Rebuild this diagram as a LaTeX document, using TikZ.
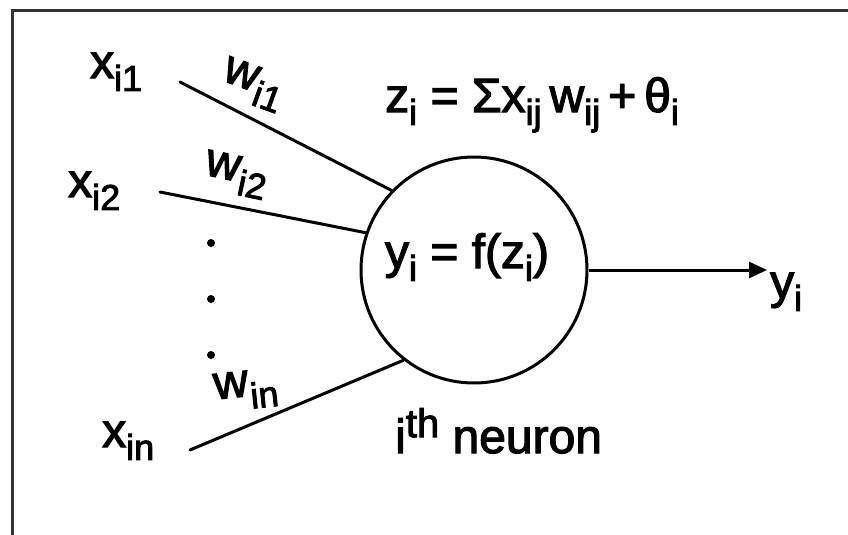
\documentclass[tikz,border=0pt]{standalone}
\usepackage{fontspec}
\setmainfont{Liberation Sans}
\newfontfamily\lblfont{Liberation Sans}[FakeBold=2.5]
\usetikzlibrary{arrows.meta}
\newcommand\sbs[1]{\raisebox{-0.27em}{\fontsize{36}{40}\selectfont #1}}
\newcommand\sps[1]{\raisebox{0.33em}{\fontsize{40}{44}\selectfont #1}}
\tikzset{
  lbl/.style={inner sep=0pt, font=\lblfont\fontsize{48}{56}\selectfont},
  wire/.style={line width=3pt, line cap=round},
  frameline/.style={line width=3pt, draw=black!80},
  neuron/.style={circle, draw, line width=3pt, minimum size=226pt, inner sep=0pt},
  dotmark/.style={circle, fill=black, inner sep=0pt, minimum size=8pt}
}
\begin{document}
\begin{tikzpicture}[x=1pt,y=-1pt]
\useasboundingbox (0,0) rectangle (848,535);
\fill[white] (0,0) rectangle (848,535);
% frame
\coordinate (ftl) at (12,11);
\coordinate (ftr) at (848,11);
\coordinate (fbl) at (12,535);
\draw[frameline] (ftr) -- (ftl) -- (fbl);
% neuron
\node[neuron] (c) at (474,270) {};
\node[lbl, anchor=base] (f) at (467,268) {y\sbs{i} = f(z\sbs{i})};
\node[lbl, anchor=base west] (eq) at (385,112) {z\sbs{i} = Σx\sbs{ij}\,w\sbs{ij}\,+\,θ\sbs{i}};
% inputs
\node[lbl, anchor=base west] (x1) at (90,78) {x\sbs{i1}};
\node[lbl, anchor=base west] (x2) at (68,197) {x\sbs{i2}};
\node[lbl, anchor=base west] (xn) at (102,447) {x\sbs{in}};
\coordinate (s1) at (180,82);
\coordinate (s2) at (160,192);
\coordinate (s3) at (190,450);
\draw[wire] (s1) -- (c.136);
\draw[wire] (s2) -- (c.161);
\draw[wire] (s3) -- (c.232);
% weights
\node[lbl, rotate=-20] (w1) at (253,85) {w\kern1pt\sbs{i1}};
\node[lbl, rotate=-12] (w2) at (236,175) {w\kern1pt\sbs{i2}};
\node[lbl, rotate=6] (wn) at (246,390) {w\kern1pt\sbs{in}};
% dots
\node[dotmark] (d1) at (211,243) {};
\node[dotmark] (d2) at (211,299) {};
\node[dotmark] (d3) at (211,355) {};
% output
\coordinate (out) at (767,270);
\draw[wire, line cap=butt, -{Triangle[length=18pt,width=16pt]}] (c.east) -- (out);
\node[lbl, anchor=base west] (y) at (770,298) {y\sbs{i}};
% caption
\node[lbl, anchor=base west] (cap) at (395,453) {i\sps{th} neuron};
\end{tikzpicture}
\end{document}
